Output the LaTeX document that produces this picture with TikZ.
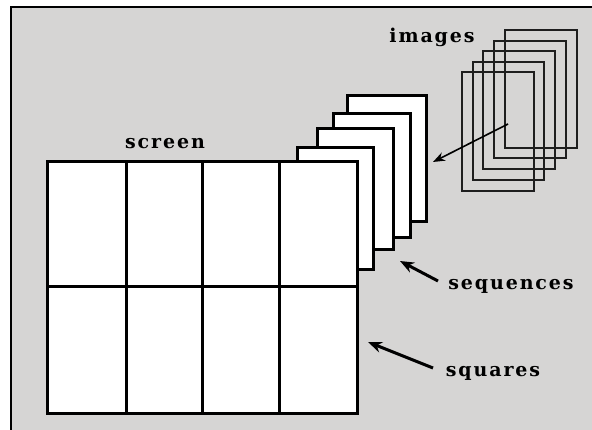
\documentclass[tikz,border=0pt]{standalone}
\usepackage{fontspec}
\newfontfamily\labfont[LetterSpace=10]{DejaVu Serif}
\usetikzlibrary{arrows.meta}
\definecolor{bggray}{RGB}{214,213,212}
\definecolor{imgline}{RGB}{30,30,30}
\tikzset{
  seqframe/.style={draw=black,fill=white,line width=3pt},
  imgframe/.style={draw=imgline,line width=2.2pt},
  gridline/.style={draw=black,line width=3pt},
  lab/.style={font=\labfont\bfseries\fontsize{19}{21}\selectfont,inner sep=0pt,anchor=base},
  thinarrow/.style={draw=black,line width=1.6pt,-{Stealth[length=12pt,width=9pt]}},
  thickarrow/.style={draw=black,line width=3pt,-{Stealth[length=14pt,width=11pt]}},
}
\begin{document}
\begin{tikzpicture}[x=1pt,y=-1pt]
\useasboundingbox (0,0) rectangle (592,430);
\fill[white] (0,0) rectangle (592,430);
\fill[bggray] (11,7) rectangle (592,430);
\draw[line width=2.5pt] (11,430) -- (11,7) -- (592,7);
% images frames
\draw[imgframe] (505,30) rectangle (577,148);
\draw[imgframe] (494,41) rectangle (566,158);
\draw[imgframe] (483,51) rectangle (555,169);
\draw[imgframe] (473,62) rectangle (544,180);
\draw[imgframe] (462,72) rectangle (534,191);
% sequence frames
\draw[seqframe] (347,96) rectangle (426,222);
\draw[seqframe] (333,114) rectangle (410,238);
\draw[seqframe] (317,129) rectangle (393,250);
\draw[seqframe] (297,148) rectangle (373,270);
% screen
\draw[seqframe] (47,162) rectangle (357,413);
\draw[gridline] (47,287) -- (357,287);
\draw[gridline] (126,162) -- (126,413);
\draw[gridline] (202,162) -- (202,413);
\draw[gridline] (279,162) -- (279,413);
% labels
\node[lab] (images) at (432,43) {images};
\node[lab] (screen) at (165,149) {screen};
\node[lab] (sequences) at (511,290) {sequences};
\node[lab] (squares) at (493,377) {squares};
% arrows
\coordinate (imgstart) at (508,124);
\coordinate (imgend) at (433,162);
\coordinate (seqstart) at (438,281);
\coordinate (seqend) at (400,261);
\coordinate (sqstart) at (433,368);
\coordinate (sqend) at (368,342);
\draw[thinarrow] (imgstart) -- (imgend);
\draw[thickarrow] (seqstart) -- (seqend);
\draw[thickarrow] (sqstart) -- (sqend);
\end{tikzpicture}
\end{document}
